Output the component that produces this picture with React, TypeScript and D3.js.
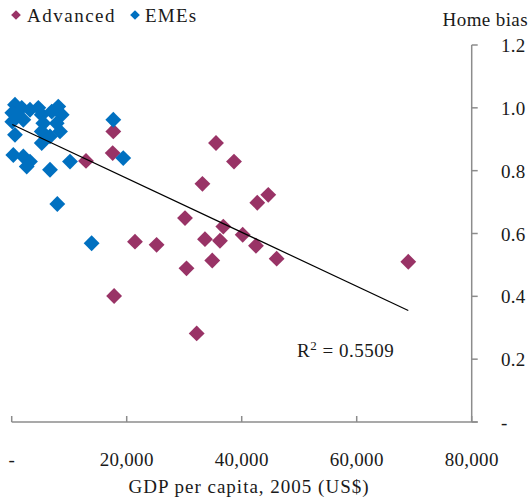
import React from "react";
import * as d3 from "d3";

// Advanced economies: [GDP per capita 2005 (US$), home bias]
const advancedGdp = [12920, 17670, 17560, 17810, 21440, 25200, 30140, 30400, 32170, 33170, 33610, 34880, 35530, 36220, 36800, 38660, 40170, 42480, 42710, 44620, 46080, 68970];
const advancedBias = [0.831, 0.925, 0.856, 0.401, 0.574, 0.564, 0.649, 0.489, 0.282, 0.758, 0.582, 0.514, 0.888, 0.577, 0.622, 0.829, 0.596, 0.561, 0.698, 0.723, 0.52, 0.51];

// Emerging market economies
const emeGdp = [570, 1740, 100, 870, 3180, 4630, 5220, 8100, 6960, 8700, 100, 2020, 5500, 7830, 8400, 5220, 570, 6660, 5220, 280, 2020, 3180, 2610, 6660, 10140, 7930, 13900, 17670, 19400];
const emeBias = [1.01, 1.0, 0.984, 0.978, 0.994, 1.0, 0.978, 1.004, 0.988, 0.978, 0.956, 0.962, 0.951, 0.951, 0.925, 0.925, 0.914, 0.909, 0.888, 0.85, 0.845, 0.829, 0.813, 0.803, 0.829, 0.694, 0.569, 0.962, 0.84];

const xTicks = [0, 20000, 40000, 60000, 80000];
const xTickLabels = ["-", "20,000", "40,000", "60,000", "80,000"];
const yTicks = [0, 0.2, 0.4, 0.6, 0.8, 1.0, 1.2];
const yTickLabels = ["-", "0.2", "0.4", "0.6", "0.8", "1.0", "1.2"];

// Linear trendline
const trendIntercept = 0.948;
const trendSlope = -8.6e-6;
const rSquaredValue = "0.5509";

const seriesNames = ["Advanced", "EMEs"];
const seriesColors = ["#993366", "#0070C0"];

export default function App() {
  const W = 532, H = 500;
  const x = d3.scaleLinear().domain([0, 80000]).range([11.7, 471.7]);
  const y = d3.scaleLinear().domain([0, 1.2]).range([422, 45]);
  const font = "'Liberation Serif', 'Times New Roman', serif";
  const diamond = d3.symbol().type(d3.symbolDiamond2).size(160)()!;
  const legendDiamond = d3.symbol().type(d3.symbolDiamond2).size(60)()!;

  const allX = [...advancedGdp, ...emeGdp];
  const xMin = d3.min(allX)!;
  const xMax = d3.max(allX)!;
  const line = d3.line<number>().x((d) => x(d)).y((d) => y(trendIntercept + trendSlope * d));

  const axisColor = "#8c8c8c";
  const textColor = "#1a1a1a";
  const fs = 19;

  return (
    <svg width={W} height={H} style={{ position: "absolute", left: 0, top: 0, background: "#fff" }} fontFamily={font}>
      {/* axes */}
      <line x1={x(0)} x2={x(80000) + 6} y1={y(0)} y2={y(0)} stroke={axisColor} strokeWidth={1.5} />
      <line x1={x(80000)} x2={x(80000)} y1={y(0)} y2={y(1.2)} stroke={axisColor} strokeWidth={1.5} />
      {xTicks.map((t, i) => (
        <g key={"xt" + i}>
          <line x1={x(t)} x2={x(t)} y1={y(0)} y2={y(0) - 6} stroke={axisColor} strokeWidth={1.5} />
          <text x={x(t)} y={466} textAnchor="middle" fontSize={fs} fill={textColor} letterSpacing={0.3}>
            {xTickLabels[i]}
          </text>
        </g>
      ))}
      {yTicks.map((t, i) => (
        <g key={"yt" + i}>
          <line x1={x(80000)} x2={x(80000) + 6} y1={y(t)} y2={y(t)} stroke={axisColor} strokeWidth={1.5} />
          <text x={501} y={y(t) + 7} textAnchor="start" fontSize={fs} fill={textColor} letterSpacing={0.3}>
            {yTickLabels[i]}
          </text>
        </g>
      ))}
      <text x={249} y={493} textAnchor="middle" fontSize={fs} fill={textColor} letterSpacing={1}>
        GDP per capita, 2005 (US$)
      </text>
      <text x={528} y={26} textAnchor="end" fontSize={fs} fill={textColor} letterSpacing={0.4}>
        Home bias
      </text>

      {/* points */}
      {advancedGdp.map((g, i) => (
        <path key={"a" + i} d={diamond} transform={`translate(${x(g)},${y(advancedBias[i])})`} fill={seriesColors[0]} />
      ))}
      {emeGdp.map((g, i) => (
        <path key={"e" + i} d={diamond} transform={`translate(${x(g)},${y(emeBias[i])})`} fill={seriesColors[1]} />
      ))}

      {/* trendline */}
      <path d={line([xMin, xMax])!} stroke="#000" strokeWidth={1.2} fill="none" />
      <text x={297} y={357} fontSize={fs} fill={textColor} letterSpacing={0.5}>
        R<tspan fontSize={13} dy={-7}>2</tspan><tspan dy={7}> = {rSquaredValue}</tspan>
      </text>

      {/* legend */}
      <path d={legendDiamond} transform="translate(16,15)" fill={seriesColors[0]} />
      <text x={27} y={22} fontSize={fs} fill={textColor} letterSpacing={1.5}>{seriesNames[0]}</text>
      <path d={legendDiamond} transform="translate(135,15)" fill={seriesColors[1]} />
      <text x={145} y={22} fontSize={fs} fill={textColor} letterSpacing={1.2}>{seriesNames[1]}</text>
    </svg>
  );
}
